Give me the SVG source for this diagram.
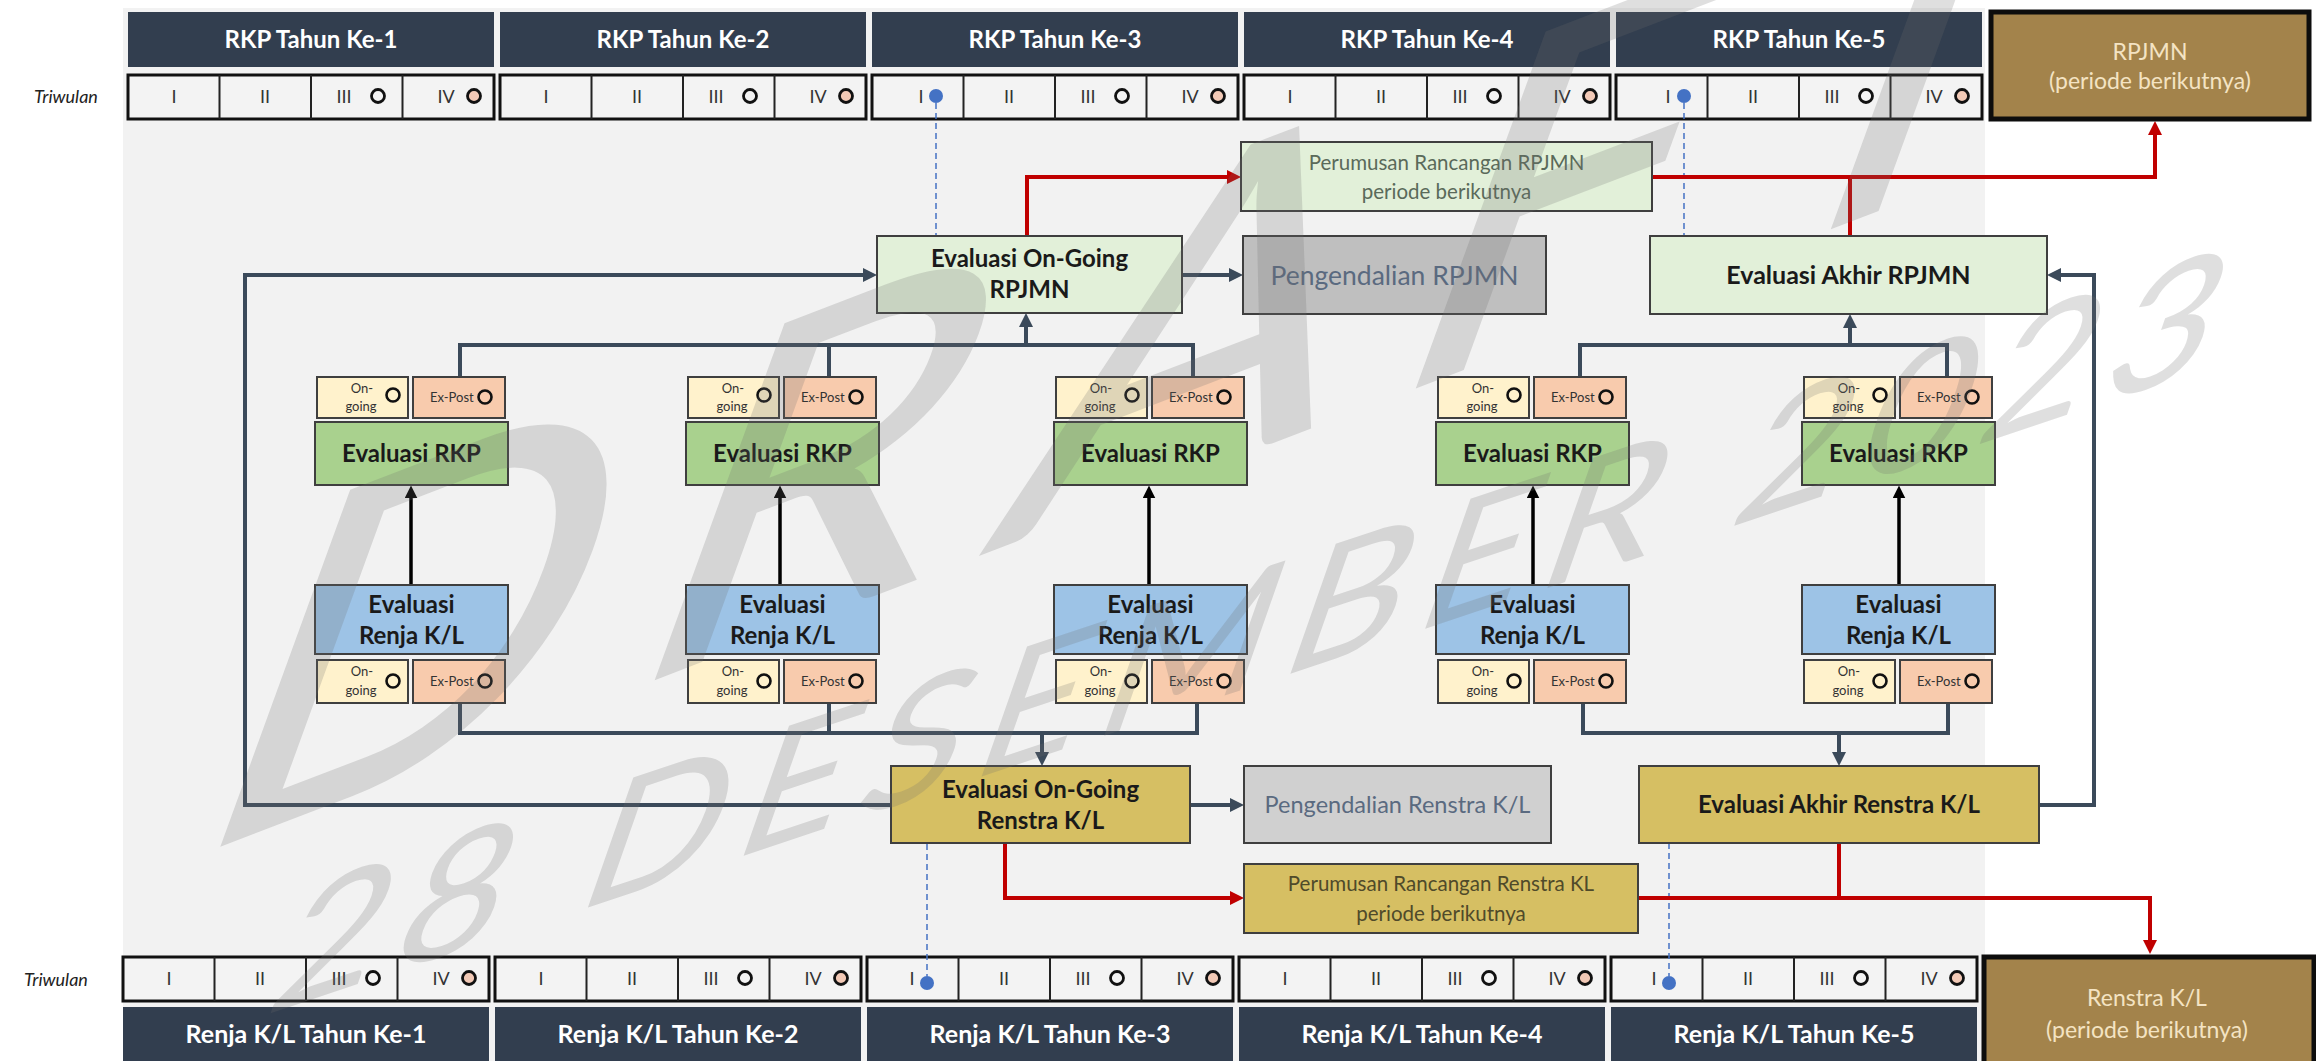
<svg xmlns="http://www.w3.org/2000/svg" width="2316" height="1061" viewBox="0 0 2316 1061">
<defs>
<style>
text{font-family:Lato,"Liberation Sans",sans-serif}
.hdr{fill:#323e4f}
.hdrT{fill:#ffffff;font-size:24px;font-weight:700;text-anchor:middle}
.twBox{fill:#f3f3f3;stroke:#111111;stroke-width:3}
.twDiv{stroke:#222222;stroke-width:2;fill:none}
.num{font-size:18px;fill:#333333;text-anchor:middle}
.tw{font-size:18px;font-style:italic;fill:#222222;text-anchor:middle}
.dotOpen{fill:#f3f3f3;stroke:#111111;stroke-width:2.8}
.dotPink{fill:#f2c9b6;stroke:#111111;stroke-width:2.8}
.dotBlue{fill:#4472c4}
.brown{fill:#a3834b;stroke:#0d0d0d;stroke-width:5}
.brownT{fill:#f4e3c3;font-size:23px;text-anchor:middle}
.box{stroke:#3f3f3f;stroke-width:2}
.lg{fill:#e2f0d9}
.gold{fill:#d6bf63}
.rkp{fill:#a9d18e}
.renja{fill:#9dc3e6}
.og{fill:#fff2cc}
.ep{fill:#f8cbad}
.grey1{fill:#bfbfbf}
.grey2{fill:#d0d0d0}
.b24{font-size:24px;font-weight:700;fill:#1a1a1a;text-anchor:middle}
.ctl{font-size:26.5px;fill:#5a6a80;text-anchor:middle}
.plan{font-size:20.5px;text-anchor:middle}
.sm{font-size:13px;fill:#333333;text-anchor:middle}
.smL{font-size:13px;fill:#333333}
.ring{fill:none;stroke:#111111;stroke-width:2.6}
.cDark{fill:none;stroke:#3b4a5a;stroke-width:4}
.cBlack{fill:none;stroke:#000000;stroke-width:3.5}
.cRed{fill:none;stroke:#c00000;stroke-width:4}
.cDash{fill:none;stroke:#4472c4;stroke-width:1.5;stroke-dasharray:6 4}
</style>
<marker id="aDark" viewBox="0 0 14 14" refX="8" refY="7" markerWidth="14" markerHeight="14" markerUnits="userSpaceOnUse" orient="auto"><path d="M0 0L14 7L0 14z" fill="#3b4a5a"/></marker>
<marker id="aBlack" viewBox="0 0 14 14" refX="8" refY="7" markerWidth="13" markerHeight="13" markerUnits="userSpaceOnUse" orient="auto"><path d="M0 0L14 7L0 14z" fill="#000000"/></marker>
<marker id="aRed" viewBox="0 0 14 14" refX="8" refY="7" markerWidth="14" markerHeight="14" markerUnits="userSpaceOnUse" orient="auto"><path d="M0 0L14 7L0 14z" fill="#c00000"/></marker>
<!-- one quarter row: frame, dividers, numerals II-IV and markers for III and IV -->
<g id="twRow">
<rect class="twBox" x="0" y="0" width="366" height="44"/>
<path class="twDiv" d="M91.5 0V44M183 0V44M274.5 0V44"/>
<text class="num" x="137" y="28">II</text>
<text class="num" x="216" y="28">III</text>
<text class="num" x="318" y="28">IV</text>
<circle class="dotOpen" cx="250" cy="21" r="6.5"/>
<circle class="dotPink" cx="346" cy="21" r="6.5"/>
</g>
</defs>

<rect x="0" y="0" width="2316" height="1061" fill="#ffffff"/>
<rect x="123" y="8" width="1862" height="1053" fill="#f2f2f2"/>

<!-- RKP year headers and quarters -->
<g id="rkp-years">
<rect class="hdr" x="128" y="12" width="366" height="55"/>
<rect class="hdr" x="500" y="12" width="366" height="55"/>
<rect class="hdr" x="872" y="12" width="366" height="55"/>
<rect class="hdr" x="1244" y="12" width="366" height="55"/>
<rect class="hdr" x="1616" y="12" width="366" height="55"/>
<text class="hdrT" x="311" y="48">RKP Tahun Ke-1</text>
<text class="hdrT" x="683" y="48">RKP Tahun Ke-2</text>
<text class="hdrT" x="1055" y="48">RKP Tahun Ke-3</text>
<text class="hdrT" x="1427" y="48">RKP Tahun Ke-4</text>
<text class="hdrT" x="1799" y="48">RKP Tahun Ke-5</text>
<text class="tw" x="66" y="103">Triwulan</text>
<use href="#twRow" x="128" y="75"/>
<use href="#twRow" x="500" y="75"/>
<use href="#twRow" x="872" y="75"/>
<use href="#twRow" x="1244" y="75"/>
<use href="#twRow" x="1616" y="75"/>
<text class="num" x="174" y="103">I</text>
<text class="num" x="546" y="103">I</text>
<text class="num" x="921" y="103">I</text>
<text class="num" x="1290" y="103">I</text>
<text class="num" x="1668" y="103">I</text>
<circle class="dotBlue" cx="936" cy="96" r="7"/>
<circle class="dotBlue" cx="1684" cy="96" r="7"/>
</g>

<!-- Renja year headers and quarters -->
<g id="renja-years">
<rect class="hdr" x="123" y="1007" width="366" height="54"/>
<rect class="hdr" x="495" y="1007" width="366" height="54"/>
<rect class="hdr" x="867" y="1007" width="366" height="54"/>
<rect class="hdr" x="1239" y="1007" width="366" height="54"/>
<rect class="hdr" x="1611" y="1007" width="366" height="54"/>
<text class="hdrT" style="font-size:25px" x="306" y="1043">Renja K/L Tahun Ke-1</text>
<text class="hdrT" style="font-size:25px" x="678" y="1043">Renja K/L Tahun Ke-2</text>
<text class="hdrT" style="font-size:25px" x="1050" y="1043">Renja K/L Tahun Ke-3</text>
<text class="hdrT" style="font-size:25px" x="1422" y="1043">Renja K/L Tahun Ke-4</text>
<text class="hdrT" style="font-size:25px" x="1794" y="1043">Renja K/L Tahun Ke-5</text>
<text class="tw" x="56" y="986">Triwulan</text>
<use href="#twRow" x="123" y="957"/>
<use href="#twRow" x="495" y="957"/>
<use href="#twRow" x="867" y="957"/>
<use href="#twRow" x="1239" y="957"/>
<use href="#twRow" x="1611" y="957"/>
<text class="num" x="169" y="985">I</text>
<text class="num" x="541" y="985">I</text>
<text class="num" x="912" y="985">I</text>
<text class="num" x="1285" y="985">I</text>
<text class="num" x="1654" y="985">I</text>
<circle class="dotBlue" cx="927" cy="983" r="7"/>
<circle class="dotBlue" cx="1669" cy="983" r="7"/>
</g>

<!-- connectors -->
<g id="connectors">
<path class="cDash" d="M936 103V236M1684 103V236M927 844V976M1669 843V976"/>
<path class="cDark" d="M460 377V345H1193V377M829 345V377"/>
<path class="cDark" d="M1026 345V319" marker-end="url(#aDark)"/>
<path class="cDark" d="M1580 377V345H1947V377"/>
<path class="cDark" d="M1850 345V320" marker-end="url(#aDark)"/>
<path class="cDark" d="M460 703V733H1197V703M829 733V703"/>
<path class="cDark" d="M1042 733V760" marker-end="url(#aDark)"/>
<path class="cDark" d="M1583 703V733H1948V703"/>
<path class="cDark" d="M1839 733V760" marker-end="url(#aDark)"/>
<path class="cDark" d="M891 805H245V275H871" marker-end="url(#aDark)"/>
<path class="cDark" d="M2039 805H2094V275H2053" marker-end="url(#aDark)"/>
<path class="cDark" d="M1182 275H1237" marker-end="url(#aDark)"/>
<path class="cDark" d="M1190 805H1238" marker-end="url(#aDark)"/>
<path class="cBlack" d="M411 585V491" marker-end="url(#aBlack)"/>
<path class="cBlack" d="M780 585V491" marker-end="url(#aBlack)"/>
<path class="cBlack" d="M1149 585V491" marker-end="url(#aBlack)"/>
<path class="cBlack" d="M1533 585V491" marker-end="url(#aBlack)"/>
<path class="cBlack" d="M1899 585V491" marker-end="url(#aBlack)"/>
<path class="cRed" d="M1027 236V177H1235" marker-end="url(#aRed)"/>
<path class="cRed" d="M1652 177H2155V127" marker-end="url(#aRed)"/>
<path class="cRed" d="M1850 236V177"/>
<path class="cRed" d="M1005 844V898H1238" marker-end="url(#aRed)"/>
<path class="cRed" d="M1638 898H2150V948" marker-end="url(#aRed)"/>
<path class="cRed" d="M1839 843V898"/>
</g>

<!-- RPJMN level -->
<g id="eval-ongoing-rpjmn">
<rect class="box lg" x="877" y="236" width="305" height="77"/>
<text class="b24" x="1029.5" y="267">Evaluasi On-Going</text>
<text class="b24" x="1029.5" y="298">RPJMN</text>
</g>
<g id="perumusan-rpjmn">
<rect class="box lg" x="1241" y="142" width="411" height="69"/>
<text class="plan" fill="#5a6a5a" x="1446.5" y="170">Perumusan Rancangan RPJMN</text>
<text class="plan" fill="#5a6a5a" x="1446.5" y="199">periode berikutnya</text>
</g>
<g id="pengendalian-rpjmn">
<rect class="box grey1" x="1243" y="236" width="303" height="78"/>
<text class="ctl" x="1394.5" y="285">Pengendalian RPJMN</text>
</g>
<g id="eval-akhir-rpjmn">
<rect class="box lg" x="1650" y="236" width="397" height="78"/>
<text class="b24" style="font-size:25px" x="1848.5" y="284">Evaluasi Akhir RPJMN</text>
</g>
<g id="rpjmn-next">
<rect class="brown" x="1991" y="12" width="318" height="107"/>
<text class="brownT" x="2150" y="60">RPJMN</text>
<text class="brownT" x="2150" y="89">(periode berikutnya)</text>
</g>

<!-- Evaluasi RKP, one per year -->
<g id="eval-rkp-1">
<rect class="box og" x="317" y="377" width="91" height="41"/><rect class="box ep" x="413" y="377" width="92" height="41"/>
<rect class="box rkp" x="315" y="422" width="193" height="63"/>
<text class="sm" x="362" y="393">On-</text><text class="sm" x="361" y="411">going</text><circle class="ring" cx="393" cy="395" r="6.5"/>
<text class="smL" x="430" y="402">Ex-Post</text><circle class="ring" cx="485" cy="397" r="6.5"/>
<text class="b24" x="411.5" y="462">Evaluasi RKP</text>
</g>
<g id="eval-rkp-2">
<rect class="box og" x="688" y="377" width="91" height="41"/><rect class="box ep" x="784" y="377" width="92" height="41"/>
<rect class="box rkp" x="686" y="422" width="193" height="63"/>
<text class="sm" x="733" y="393">On-</text><text class="sm" x="732" y="411">going</text><circle class="ring" cx="764" cy="395" r="6.5"/>
<text class="smL" x="801" y="402">Ex-Post</text><circle class="ring" cx="856" cy="397" r="6.5"/>
<text class="b24" x="782.5" y="462">Evaluasi RKP</text>
</g>
<g id="eval-rkp-3">
<rect class="box og" x="1056" y="377" width="91" height="41"/><rect class="box ep" x="1152" y="377" width="92" height="41"/>
<rect class="box rkp" x="1054" y="422" width="193" height="63"/>
<text class="sm" x="1101" y="393">On-</text><text class="sm" x="1100" y="411">going</text><circle class="ring" cx="1132" cy="395" r="6.5"/>
<text class="smL" x="1169" y="402">Ex-Post</text><circle class="ring" cx="1224" cy="397" r="6.5"/>
<text class="b24" x="1150.5" y="462">Evaluasi RKP</text>
</g>
<g id="eval-rkp-4">
<rect class="box og" x="1438" y="377" width="91" height="41"/><rect class="box ep" x="1534" y="377" width="92" height="41"/>
<rect class="box rkp" x="1436" y="422" width="193" height="63"/>
<text class="sm" x="1483" y="393">On-</text><text class="sm" x="1482" y="411">going</text><circle class="ring" cx="1514" cy="395" r="6.5"/>
<text class="smL" x="1551" y="402">Ex-Post</text><circle class="ring" cx="1606" cy="397" r="6.5"/>
<text class="b24" x="1532.5" y="462">Evaluasi RKP</text>
</g>
<g id="eval-rkp-5">
<rect class="box og" x="1804" y="377" width="91" height="41"/><rect class="box ep" x="1900" y="377" width="92" height="41"/>
<rect class="box rkp" x="1802" y="422" width="193" height="63"/>
<text class="sm" x="1849" y="393">On-</text><text class="sm" x="1848" y="411">going</text><circle class="ring" cx="1880" cy="395" r="6.5"/>
<text class="smL" x="1917" y="402">Ex-Post</text><circle class="ring" cx="1972" cy="397" r="6.5"/>
<text class="b24" x="1898.5" y="462">Evaluasi RKP</text>
</g>

<!-- Evaluasi Renja K/L, one per year -->
<g id="eval-renja-1">
<rect class="box renja" x="315" y="585" width="193" height="69"/>
<rect class="box og" x="317" y="660" width="91" height="43"/><rect class="box ep" x="413" y="660" width="92" height="43"/>
<text class="b24" x="411.5" y="613">Evaluasi</text><text class="b24" x="411.5" y="644">Renja K/L</text>
<text class="sm" x="362" y="676">On-</text><text class="sm" x="361" y="695">going</text><circle class="ring" cx="393" cy="681" r="6.5"/>
<text class="smL" x="430" y="686">Ex-Post</text><circle class="ring" cx="485" cy="681" r="6.5"/>
</g>
<g id="eval-renja-2">
<rect class="box renja" x="686" y="585" width="193" height="69"/>
<rect class="box og" x="688" y="660" width="91" height="43"/><rect class="box ep" x="784" y="660" width="92" height="43"/>
<text class="b24" x="782.5" y="613">Evaluasi</text><text class="b24" x="782.5" y="644">Renja K/L</text>
<text class="sm" x="733" y="676">On-</text><text class="sm" x="732" y="695">going</text><circle class="ring" cx="764" cy="681" r="6.5"/>
<text class="smL" x="801" y="686">Ex-Post</text><circle class="ring" cx="856" cy="681" r="6.5"/>
</g>
<g id="eval-renja-3">
<rect class="box renja" x="1054" y="585" width="193" height="69"/>
<rect class="box og" x="1056" y="660" width="91" height="43"/><rect class="box ep" x="1152" y="660" width="92" height="43"/>
<text class="b24" x="1150.5" y="613">Evaluasi</text><text class="b24" x="1150.5" y="644">Renja K/L</text>
<text class="sm" x="1101" y="676">On-</text><text class="sm" x="1100" y="695">going</text><circle class="ring" cx="1132" cy="681" r="6.5"/>
<text class="smL" x="1169" y="686">Ex-Post</text><circle class="ring" cx="1224" cy="681" r="6.5"/>
</g>
<g id="eval-renja-4">
<rect class="box renja" x="1436" y="585" width="193" height="69"/>
<rect class="box og" x="1438" y="660" width="91" height="43"/><rect class="box ep" x="1534" y="660" width="92" height="43"/>
<text class="b24" x="1532.5" y="613">Evaluasi</text><text class="b24" x="1532.5" y="644">Renja K/L</text>
<text class="sm" x="1483" y="676">On-</text><text class="sm" x="1482" y="695">going</text><circle class="ring" cx="1514" cy="681" r="6.5"/>
<text class="smL" x="1551" y="686">Ex-Post</text><circle class="ring" cx="1606" cy="681" r="6.5"/>
</g>
<g id="eval-renja-5">
<rect class="box renja" x="1802" y="585" width="193" height="69"/>
<rect class="box og" x="1804" y="660" width="91" height="43"/><rect class="box ep" x="1900" y="660" width="92" height="43"/>
<text class="b24" x="1898.5" y="613">Evaluasi</text><text class="b24" x="1898.5" y="644">Renja K/L</text>
<text class="sm" x="1849" y="676">On-</text><text class="sm" x="1848" y="695">going</text><circle class="ring" cx="1880" cy="681" r="6.5"/>
<text class="smL" x="1917" y="686">Ex-Post</text><circle class="ring" cx="1972" cy="681" r="6.5"/>
</g>

<!-- Renstra level -->
<g id="eval-ongoing-renstra">
<rect class="box gold" x="891" y="766" width="299" height="77"/>
<text class="b24" x="1040.5" y="798">Evaluasi On-Going</text>
<text class="b24" x="1040.5" y="829">Renstra K/L</text>
</g>
<g id="pengendalian-renstra">
<rect class="box grey2" x="1244" y="766" width="307" height="77"/>
<text class="ctl" style="font-size:23.5px" x="1397.5" y="813">Pengendalian Renstra K/L</text>
</g>
<g id="eval-akhir-renstra">
<rect class="box gold" x="1639" y="766" width="400" height="77"/>
<text class="b24" x="1839" y="813">Evaluasi Akhir Renstra K/L</text>
</g>
<g id="perumusan-renstra">
<rect class="box gold" x="1244" y="864" width="394" height="69"/>
<text class="plan" fill="#4f4a2a" x="1441" y="891">Perumusan Rancangan Renstra KL</text>
<text class="plan" fill="#4f4a2a" x="1441" y="921">periode berikutnya</text>
</g>
<g id="renstra-next">
<rect class="brown" x="1984" y="957" width="330" height="110"/>
<text class="brownT" x="2147" y="1006">Renstra K/L</text>
<text class="brownT" x="2147" y="1038">(periode berikutnya)</text>
</g>

<!-- draft stamp laid over the sheet -->
<g id="watermark" fill="#6e6e6e" fill-opacity="0.22" font-family="'Liberation Sans',sans-serif">
<text transform="matrix(0.934 -0.358 -0.342 0.940 175 864)" font-size="530" letter-spacing="62">DRAFT</text>
<text transform="matrix(0.949 -0.316 -0.33 0.944 262 1016)" font-size="192" letter-spacing="18">28 DESEMBER 2023</text>
</g>
</svg>
